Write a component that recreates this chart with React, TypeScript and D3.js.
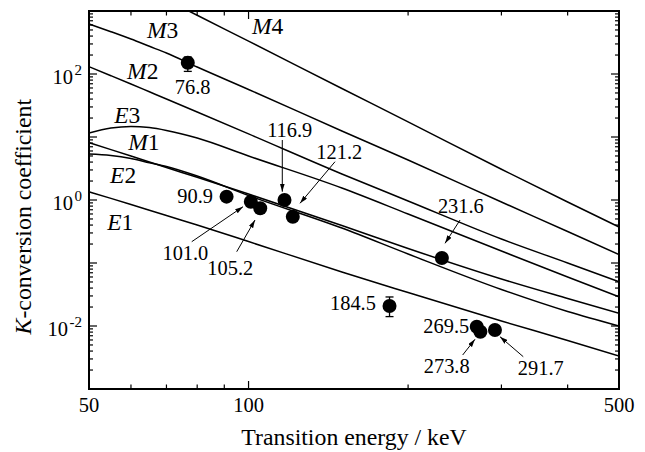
import React, { useEffect, useRef } from 'react'
import * as d3 from 'd3'

// energy grid (keV) shared by the theoretical curves
const energies = [50, 55, 60, 65, 70, 80, 100, 150, 200, 300, 400, 500]

// K-shell conversion coefficients
const E1 = [1.35, 1.06, 0.848, 0.689, 0.567, 0.401, 0.219, 0.072, 0.034, 0.012, 0.0059, 0.00334]
const E2 = [5.37, 5.09, 4.56, 3.91, 3.4, 2.4, 1.18, 0.359, 0.139, 0.038, 0.017, 0.01]
const E3 = [11.6, 13.9, 14.7, 14.1, 12.7, 9.64, 4.99, 1.55, 0.6, 0.155, 0.06, 0.029]
const M1 = [8.12, 6.31, 4.99, 4.01, 3.28, 2.29, 1.245, 0.394, 0.17, 0.0557, 0.0273, 0.0159]
const M2 = [130.6, 94, 69.4, 52.2, 40.1, 24.9, 11.2, 2.59, 0.964, 0.24, 0.1, 0.0505]
const M3 = [622, 469, 359, 275, 215, 129, 56.8, 12.45, 4.31, 0.93, 0.316, 0.136]
const M4 = [null, null, 2906, 2070, 1512, 855, 332, 58.9, 17.4, 3.08, 0.93, 0.373]

const curveNames = ['E1', 'E2', 'E3', 'M1', 'M2', 'M3', 'M4']
const curveValues = [E1, E2, E3, M1, M2, M3, M4]
// where each curve name sits, in data coordinates (keV, coefficient)
const curveLabelE = [54.1, 54.8, 55.8, 59.3, 59.0, 64.3, 101.5]
const curveLabelV = [0.334, 1.84, 16.9, 6.22, 83.3, 373, 431]

// measured transitions
const peakEnergies = [76.8, 90.9, 101.0, 105.2, 116.9, 121.2, 184.5, 231.6, 269.5, 273.8, 291.7]
const peakAlpha = [151, 1.13, 0.94, 0.738, 1.0, 0.543, 0.0208, 0.12, 0.00975, 0.00812, 0.00864]
const peakErrLow = [110, null, null, null, null, null, 0.0141, null, null, null, null]
const peakErrHigh = [186, null, null, null, null, null, 0.0289, null, null, null, null]

// label placement relative to each dot (px): anchor, dx, dy, optional arrow [x1, y1, x2, y2]
const peakLabelLayout: { anchor: string; dx: number; dy: number; arrow?: number[] }[] = [
  { anchor: 'start', dx: -13, dy: 31.3 },
  { anchor: 'end', dx: -13.6, dy: 6.6 },
  { anchor: 'end', dx: -42.5, dy: 58.3, arrow: [-59.1, 40, -7.8, 5] },
  { anchor: 'start', dx: -52.9, dy: 66.7, arrow: [-23.5, 43.4, -5.2, 11.7] },
  { anchor: 'middle', dx: 5.2, dy: -63.3, arrow: [-2.2, -60, -2.2, -8.3] },
  { anchor: 'middle', dx: 46.5, dy: -57.4, arrow: [42.2, -55, 7.2, -13.4] },
  { anchor: 'end', dx: -13.6, dy: 4 },
  { anchor: 'middle', dx: 19, dy: -44.7, arrow: [18.2, -38, 3.2, -14.7] },
  { anchor: 'end', dx: -7.5, dy: 6 },
  { anchor: 'middle', dx: -33.7, dy: 41, arrow: [-17.7, 23.3, -5.4, 7.6] },
  { anchor: 'middle', dx: 45.8, dy: 45, arrow: [28.3, 26.7, 5, 6.7] },
]

const xTicks = [50, 60, 70, 80, 90, 100, 200, 300, 400, 500]
const xMajor = [50, 100, 500]
const yDecades = [-3, -2, -1, 0, 1, 2, 3]
const yLabelExp = [2, 0, -2]

const serif = '"Liberation Serif", "Times New Roman", Times, serif'

export default function App() {
  const ref = useRef<SVGSVGElement>(null)

  useEffect(() => {
    const svg = d3.select(ref.current)
    svg.selectAll('*').remove()
    const width = 645
    const height = 452
    const margin = { left: 89, right: 26, top: 11, bottom: 63 }
    const x0 = margin.left
    const x1 = width - margin.right
    const y0 = height - margin.bottom
    const y1 = margin.top

    const x = d3.scaleLog().domain([50, 500]).range([x0, x1])
    const y = d3.scaleLog().domain([1e-3, 1e3]).range([y0, y1])

    const defs = svg.append('defs')
    defs.append('clipPath').attr('id', 'plot-clip')
      .append('rect').attr('x', x0).attr('y', y1).attr('width', x1 - x0).attr('height', y0 - y1)
    defs.append('marker')
      .attr('id', 'arrowhead')
      .attr('viewBox', '0 0 10 6')
      .attr('refX', 10).attr('refY', 3)
      .attr('markerWidth', 8).attr('markerHeight', 5)
      .attr('markerUnits', 'userSpaceOnUse')
      .attr('orient', 'auto')
      .append('path').attr('d', 'M0,0 L10,3 L0,6 z').attr('fill', '#000')

    // curves
    const line = d3.line<[number, number | null]>()
      .defined(d => d[1] != null)
      .x(d => x(d[0]))
      .y(d => y(d[1] as number))
      .curve(d3.curveMonotoneX)

    const g = svg.append('g').attr('clip-path', 'url(#plot-clip)')
    curveValues.forEach(vals => {
      const pts = energies.map((e, i) => [e, vals[i]] as [number, number | null])
      g.append('path')
        .attr('d', line(pts))
        .attr('fill', 'none')
        .attr('stroke', '#000')
        .attr('stroke-width', 1.5)
    })

    // curve names
    curveNames.forEach((name, i) => {
      const t = svg.append('text')
        .attr('x', x(curveLabelE[i]))
        .attr('y', y(curveLabelV[i]))
        .style('font-family', serif)
        .style('font-size', '23.5px')
      t.append('tspan').style('font-style', 'italic').text(name[0])
      t.append('tspan').text(name.slice(1))
    })

    // error bars
    peakEnergies.forEach((e, i) => {
      const lo = peakErrLow[i]
      const hi = peakErrHigh[i]
      if (lo == null || hi == null) return
      const cx = x(e)
      svg.append('line').attr('x1', cx).attr('x2', cx).attr('y1', y(lo)).attr('y2', y(hi))
        .attr('stroke', '#000').attr('stroke-width', 1.3)
      ;[lo, hi].forEach(v => {
        svg.append('line').attr('x1', cx - 4).attr('x2', cx + 4).attr('y1', y(v)).attr('y2', y(v))
          .attr('stroke', '#000').attr('stroke-width', 1.3)
      })
    })

    // dots
    svg.append('g')
      .selectAll('circle')
      .data(peakEnergies)
      .enter()
      .append('circle')
      .attr('cx', d => x(d))
      .attr('cy', (d, i) => y(peakAlpha[i]))
      .attr('r', 7)
      .attr('fill', '#000')

    // peak labels and arrows
    peakEnergies.forEach((e, i) => {
      const cx = x(e)
      const cy = y(peakAlpha[i])
      const lay = peakLabelLayout[i]
      svg.append('text')
        .attr('x', cx + lay.dx)
        .attr('y', cy + lay.dy)
        .attr('text-anchor', lay.anchor)
        .style('font-family', serif)
        .style('font-size', '20.4px')
        .text(e.toFixed(1))
      if (lay.arrow) {
        const a = lay.arrow
        svg.append('line')
          .attr('x1', cx + a[0]).attr('y1', cy + a[1])
          .attr('x2', cx + a[2]).attr('y2', cy + a[3])
          .attr('stroke', '#000').attr('stroke-width', 1)
          .attr('marker-end', 'url(#arrowhead)')
      }
    })

    // ticks (inward, all four sides)
    const ticks = svg.append('g').attr('stroke', '#000').attr('stroke-width', 1.2)
    xTicks.forEach(t => {
      const len = xMajor.includes(t) ? 8 : 4.5
      const px = x(t)
      ticks.append('line').attr('x1', px).attr('x2', px).attr('y1', y0).attr('y2', y0 - len)
      ticks.append('line').attr('x1', px).attr('x2', px).attr('y1', y1).attr('y2', y1 + len)
    })
    yDecades.forEach(p => {
      for (let m = 1; m <= 9; m++) {
        const v = m * Math.pow(10, p)
        if (v > 1e3) break
        const len = m === 1 ? 8 : 4
        const py = y(v)
        ticks.append('line').attr('x1', x0).attr('x2', x0 + len).attr('y1', py).attr('y2', py)
        ticks.append('line').attr('x1', x1).attr('x2', x1 - len).attr('y1', py).attr('y2', py)
      }
    })

    // frame
    svg.append('rect')
      .attr('x', x0).attr('y', y1)
      .attr('width', x1 - x0).attr('height', y0 - y1)
      .attr('fill', 'none').attr('stroke', '#000').attr('stroke-width', 2)

    // tick labels
    xMajor.forEach(t => {
      svg.append('text')
        .attr('x', x(t))
        .attr('y', y0 + 23)
        .attr('text-anchor', 'middle')
        .style('font-family', serif)
        .style('font-size', '20.5px')
        .text(t)
    })
    yLabelExp.forEach(p => {
      const t = svg.append('text')
        .attr('x', x0 - 7)
        .attr('y', y(Math.pow(10, p)) + 9.5)
        .attr('text-anchor', 'end')
        .style('font-family', serif)
        .style('font-size', '20.5px')
      t.append('tspan').text('10')
      t.append('tspan').attr('dx', 1.5).attr('dy', -9).style('font-size', '15px').text(String(p))
    })

    // axis titles
    svg.append('text')
      .attr('x', (x0 + x1) / 2)
      .attr('y', 445)
      .attr('text-anchor', 'middle')
      .style('font-family', serif)
      .style('font-size', '23.8px')
      .text('Transition energy / keV')

    const yt = svg.append('text')
      .attr('text-anchor', 'middle')
      .attr('transform', 'translate(31,216.7)rotate(-90)')
      .style('font-family', serif)
      .style('font-size', '23.8px')
    yt.append('tspan').style('font-style', 'italic').text('K')
    yt.append('tspan').text('-conversion coefficient')
  }, [])

  return (
    <svg
      ref={ref}
      width={645}
      height={452}
      style={{ position: 'absolute', left: 0, top: 0, background: '#fff' }}
    />
  )
}
